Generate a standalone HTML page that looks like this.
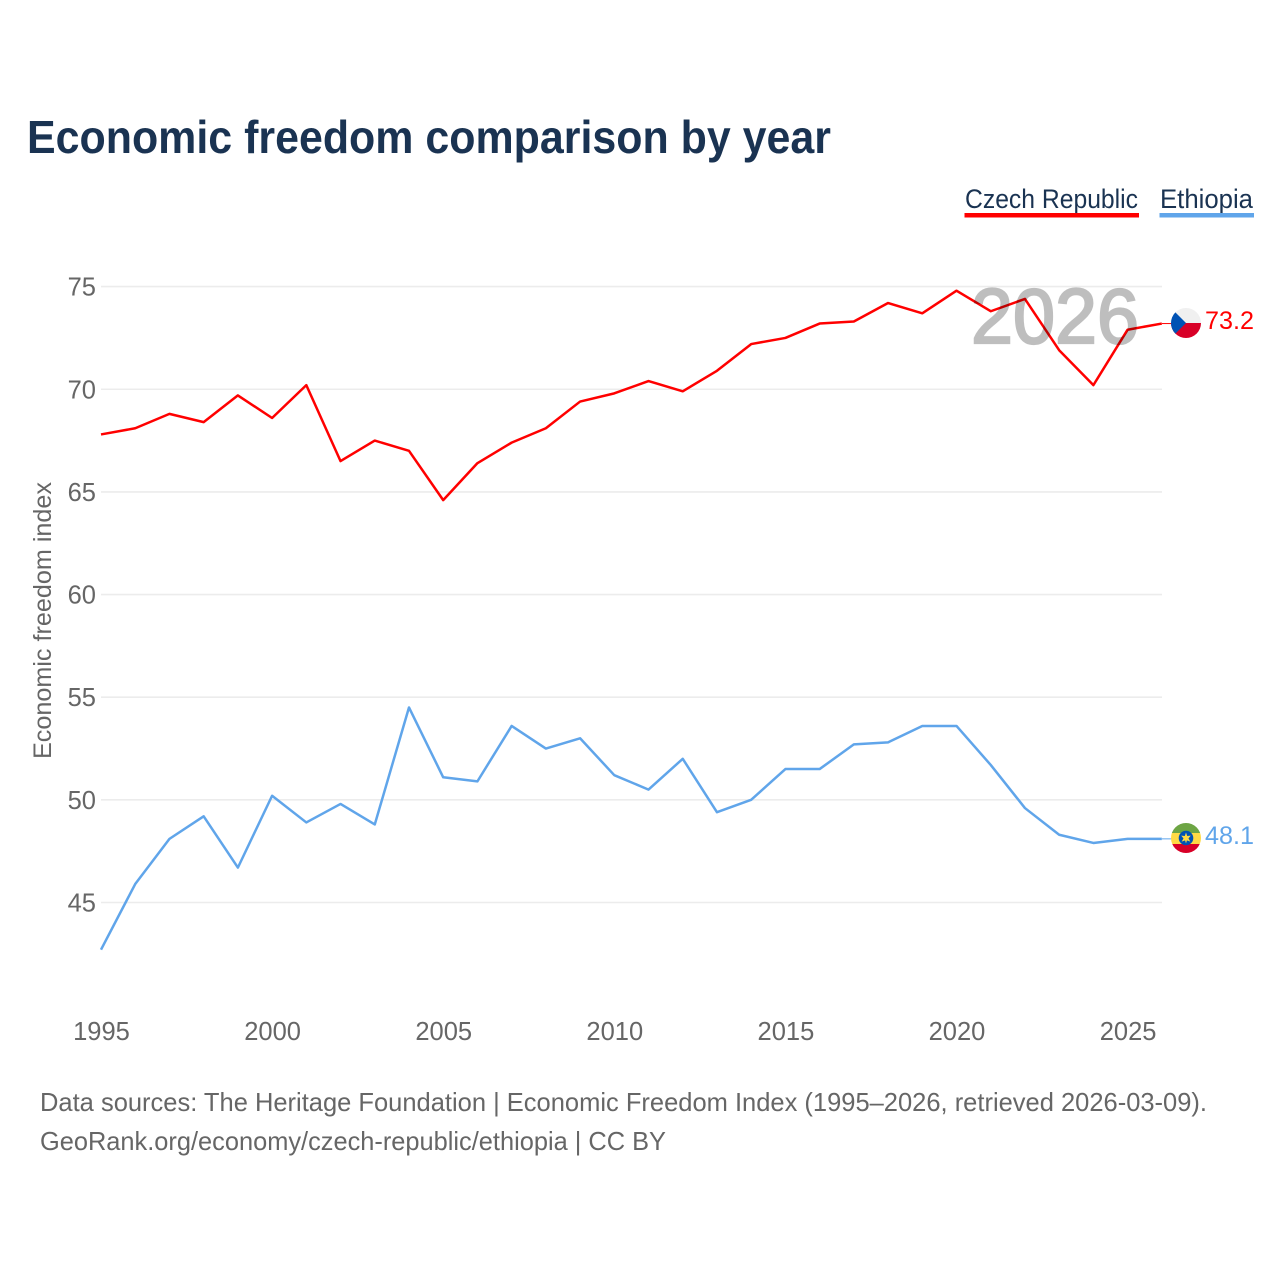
<!DOCTYPE html>
<html lang="en">
<head>
<meta charset="utf-8">
<title>Economic freedom comparison by year</title>
<style>
html,body{margin:0;padding:0;background:#fff;}
svg{display:block;}
text{font-family:"Liberation Sans",sans-serif;}
</style>
</head>
<body>
<svg id="chart" xmlns="http://www.w3.org/2000/svg" width="1280" height="1280" viewBox="0 0 1280 1280">
  <defs>
    <clipPath id="plot-clip"><rect x="90" y="240" width="1072" height="780"/></clipPath>
    <clipPath id="cz-clip"><circle cx="1186" cy="323" r="15"/></clipPath>
    <clipPath id="et-clip"><circle cx="1186" cy="838" r="15"/></clipPath>
  </defs>
  <rect width="1280" height="1280" fill="#fff"/>
  <text x="27" y="153" font-size="46" font-weight="700" fill="#1a3352" textLength="804" lengthAdjust="spacingAndGlyphs">Economic freedom comparison by year</text>

  <g>
    <g>
      <text x="965" y="208" font-size="27" fill="#1a3352" textLength="173" lengthAdjust="spacingAndGlyphs">Czech Republic</text>
      <rect x="964.5" y="213" width="174.5" height="4.5" fill="#ff0000"/>
    </g>
    <g>
      <text x="1160" y="208" font-size="27" fill="#1a3352" textLength="93" lengthAdjust="spacingAndGlyphs">Ethiopia</text>
      <rect x="1159.5" y="213" width="94.5" height="4.5" fill="#60a5ea"/>
    </g>
  </g>

  <g id="grid"></g>
  <g id="y-ticks"></g>
  <g id="x-ticks"></g>
  <text transform="translate(51,620.5) rotate(-90)" text-anchor="middle" font-size="25" fill="#666" textLength="277" lengthAdjust="spacingAndGlyphs">Economic freedom index</text>

  <g id="series" clip-path="url(#plot-clip)"></g>
  <g id="connectors"></g>

  <text x="1055" y="343" text-anchor="middle" font-size="78" fill="#000" stroke="#000" stroke-width="2.2" opacity="0.25" textLength="168" lengthAdjust="spacingAndGlyphs">2026</text>

  <g clip-path="url(#cz-clip)">
    <rect x="1171" y="308" width="30" height="15" fill="#f0f0f0"/>
    <rect x="1171" y="323" width="30" height="15" fill="#d80027"/>
    <polygon points="1171,308 1186,323 1171,338" fill="#0052b4"/>
  </g>
  <g clip-path="url(#et-clip)">
    <rect x="1171" y="823" width="30" height="10" fill="#6da544"/>
    <rect x="1171" y="833" width="30" height="11" fill="#ffda44"/>
    <rect x="1171" y="844" width="30" height="10" fill="#d80027"/>
    <circle cx="1186" cy="838" r="7.3" fill="#0052b4"/>
    <polygon points="1186,832.5 1187.2,836 1190.8,835.6 1188.5,838.4 1190.3,841.6 1186.9,840.4 1186,843.5 1185.1,840.4 1181.7,841.6 1183.5,838.4 1181.2,835.6 1184.8,836" fill="#ffda44"/>
  </g>
  <text id="label-cz" x="1205" y="329" font-size="25" fill="#ff0000" textLength="49" lengthAdjust="spacingAndGlyphs">73.2</text>
  <text id="label-et" x="1205" y="844" font-size="25" fill="#60a5ea" textLength="49" lengthAdjust="spacingAndGlyphs">48.1</text>

  <text x="40" y="1111" font-size="26" fill="#666" textLength="1167" lengthAdjust="spacingAndGlyphs">Data sources: The Heritage Foundation | Economic Freedom Index (1995–2026, retrieved 2026-03-09).</text>
  <text x="40" y="1150" font-size="26" fill="#666" textLength="626" lengthAdjust="spacingAndGlyphs">GeoRank.org/economy/czech-republic/ethiopia | CC BY</text>
</svg>
<script>
const years = [1995,1996,1997,1998,1999,2000,2001,2002,2003,2004,2005,2006,2007,2008,2009,2010,2011,2012,2013,2014,2015,2016,2017,2018,2019,2020,2021,2022,2023,2024,2025,2026];
const czechRepublic = [67.8,68.1,68.8,68.4,69.7,68.6,70.2,66.5,67.5,67.0,64.6,66.4,67.4,68.1,69.4,69.8,70.4,69.9,70.9,72.2,72.5,73.2,73.3,74.2,73.7,74.8,73.8,74.4,71.9,70.2,72.9,73.2];
const ethiopia = [42.7,45.9,48.1,49.2,46.7,50.2,48.9,49.8,48.8,54.5,51.1,50.9,53.6,52.5,53.0,51.2,50.5,52.0,49.4,50.0,51.5,51.5,52.7,52.8,53.6,53.6,51.7,49.6,48.3,47.9,48.1,48.1];
const yTickLabels = [45,50,55,60,65,70,75];
const xTickLabels = [1995,2000,2005,2010,2015,2020,2025];

const NS = 'http://www.w3.org/2000/svg';
function xScale(year){ return 101 + (year - 1995) * 34.22; }
function yScale(value){ return 286.6 + (75 - value) * 20.53; }
function make(tag, attrs, parent){
  const el = document.createElementNS(NS, tag);
  for (const k in attrs) el.setAttribute(k, attrs[k]);
  parent.appendChild(el);
  return el;
}

const gridGroup = document.getElementById('grid');
const yGroup = document.getElementById('y-ticks');
yTickLabels.forEach(function(v){
  const line = make('line', {x1:101, x2:1162, y1:yScale(v), y2:yScale(v), stroke:'#ececec', 'stroke-width':1.6}, gridGroup);
  
  
  const t = make('text', {x:96, y:yScale(v)+9, 'text-anchor':'end', 'font-size':25.5, fill:'#666'}, yGroup);
  
  
  t.textContent = v;
});

const xGroup = document.getElementById('x-ticks');
xTickLabels.forEach(function(y){
  const t = make('text', {x:xScale(y)+0.5, y:1040, 'text-anchor':'middle', 'font-size':25.5, fill:'#666'}, xGroup);
  
  
  t.textContent = y;
});

function pathFor(values){
  return values.map(function(v,i){ return (i ? 'L' : 'M') + xScale(years[i]).toFixed(2) + ' ' + yScale(v).toFixed(2); }).join(' ');
}
const seriesGroup = document.getElementById('series');
const connGroup = document.getElementById('connectors');

const czLine = make('path', {d:pathFor(czechRepublic), fill:'none', stroke:'#ff0000', 'stroke-width':2.5, 'stroke-linejoin':'round'}, seriesGroup);


const etLine = make('path', {d:pathFor(ethiopia), fill:'none', stroke:'#60a5ea', 'stroke-width':2.5, 'stroke-linejoin':'round'}, seriesGroup);



const czLast = czechRepublic[czechRepublic.length - 1];
const etLast = ethiopia[ethiopia.length - 1];
const czConn = make('line', {x1:1162, x2:1172, y1:yScale(czLast), y2:yScale(czLast), stroke:'#ff0000', 'stroke-width':1}, connGroup);


const etConn = make('line', {x1:1162, x2:1172, y1:yScale(etLast), y2:yScale(etLast), stroke:'#60a5ea', 'stroke-width':1}, connGroup);


</script>
</body>
</html>
